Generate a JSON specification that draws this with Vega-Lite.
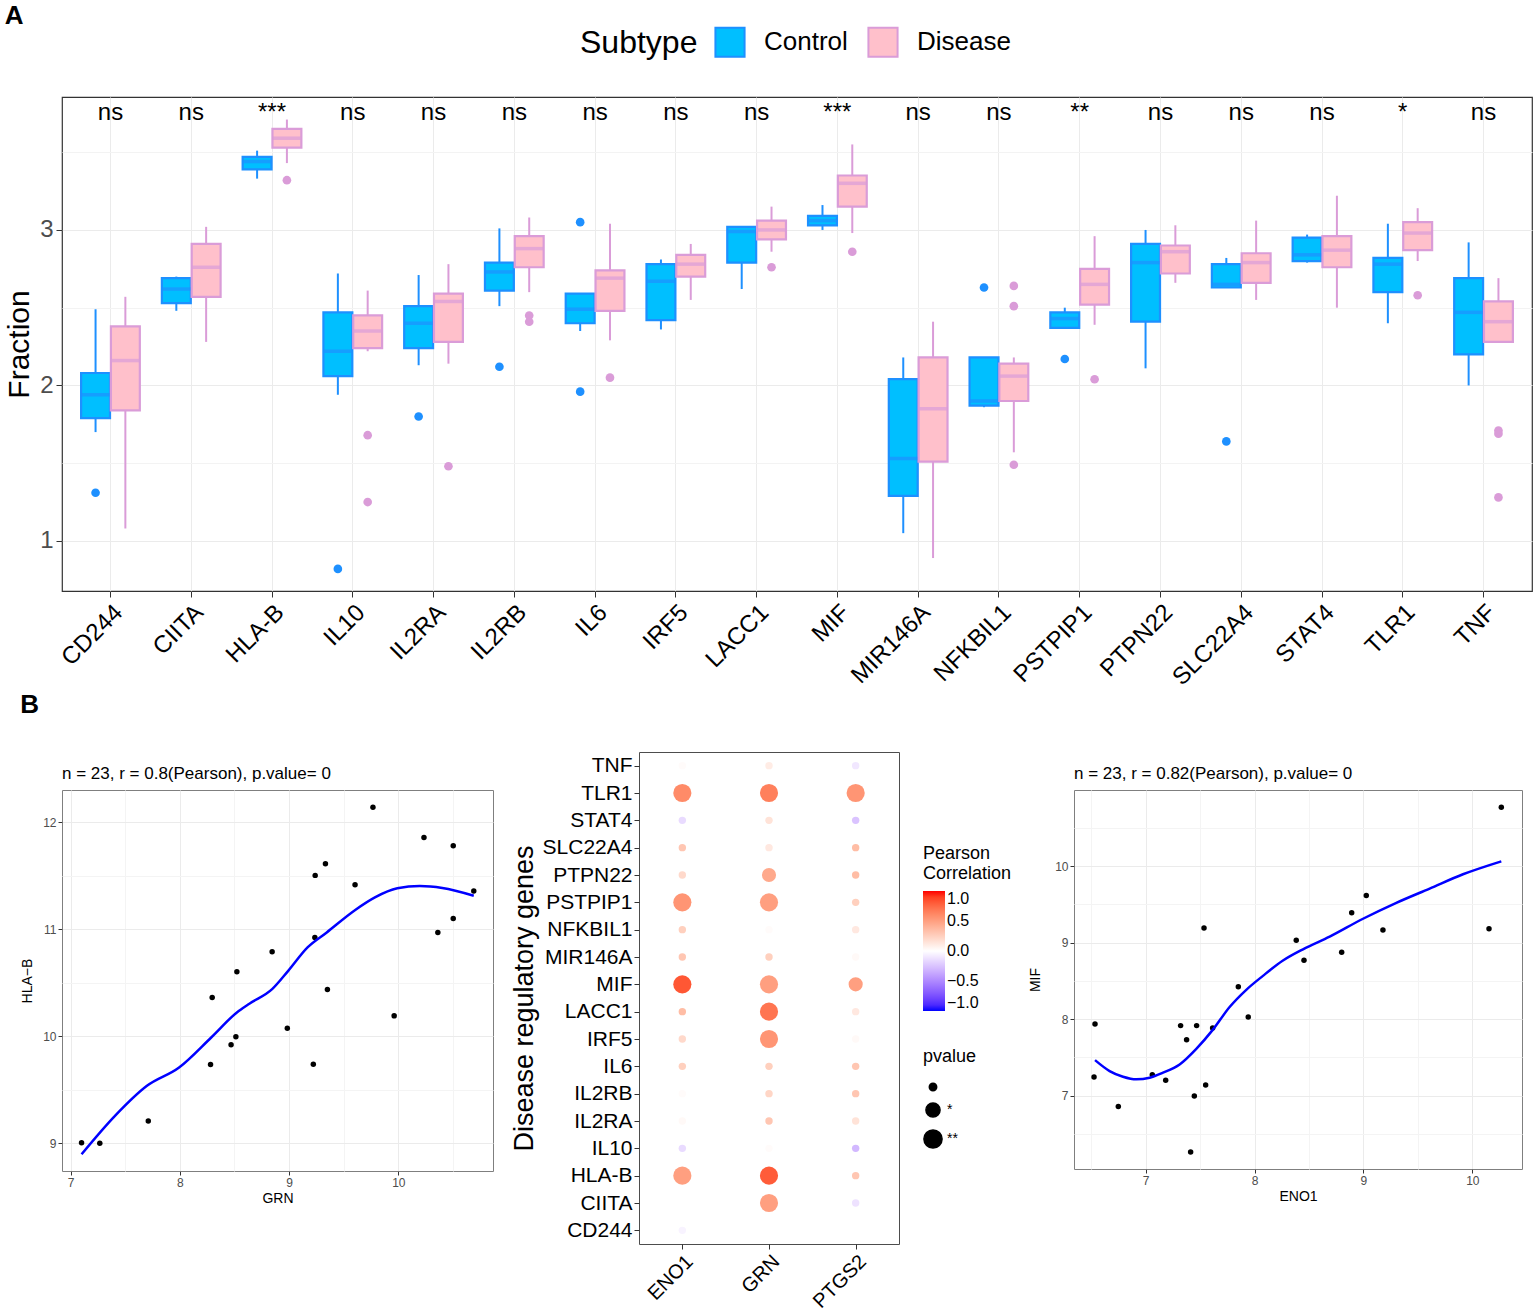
{
  "$schema": "https://vega.github.io/schema/vega-lite/v6.json",
  "padding": {"left": 4, "top": 2, "right": 0, "bottom": 0},
  "background": "white",
  "config": {
    "font": "Liberation Sans",
    "view": {"stroke": "#333333"},
    "axis": {"titleFontWeight": "normal", "titleColor": "#000000", "domain": false, "tickColor": "#333333"},
    "legend": {"titleFontWeight": "normal", "titleColor": "#000000", "labelColor": "#000000"},
    "title": {"fontWeight": "normal", "color": "#000000"}
  },
  "datasets": {
    "box": [
      {"gene": "CD244", "subtype": "Control", "lower": 1.70, "q1": 1.79, "median": 1.94, "q3": 2.08, "upper": 2.49},
      {"gene": "CD244", "subtype": "Disease", "lower": 1.08, "q1": 1.84, "median": 2.16, "q3": 2.38, "upper": 2.57},
      {"gene": "CIITA", "subtype": "Control", "lower": 2.48, "q1": 2.53, "median": 2.62, "q3": 2.69, "upper": 2.70},
      {"gene": "CIITA", "subtype": "Disease", "lower": 2.28, "q1": 2.57, "median": 2.76, "q3": 2.91, "upper": 3.02},
      {"gene": "HLA-B", "subtype": "Control", "lower": 3.33, "q1": 3.39, "median": 3.44, "q3": 3.47, "upper": 3.51},
      {"gene": "HLA-B", "subtype": "Disease", "lower": 3.43, "q1": 3.53, "median": 3.59, "q3": 3.65, "upper": 3.71},
      {"gene": "IL10", "subtype": "Control", "lower": 1.94, "q1": 2.06, "median": 2.22, "q3": 2.47, "upper": 2.72},
      {"gene": "IL10", "subtype": "Disease", "lower": 2.22, "q1": 2.24, "median": 2.35, "q3": 2.45, "upper": 2.61},
      {"gene": "IL2RA", "subtype": "Control", "lower": 2.13, "q1": 2.24, "median": 2.40, "q3": 2.51, "upper": 2.71},
      {"gene": "IL2RA", "subtype": "Disease", "lower": 2.14, "q1": 2.28, "median": 2.54, "q3": 2.59, "upper": 2.78},
      {"gene": "IL2RB", "subtype": "Control", "lower": 2.51, "q1": 2.61, "median": 2.73, "q3": 2.79, "upper": 3.01},
      {"gene": "IL2RB", "subtype": "Disease", "lower": 2.60, "q1": 2.76, "median": 2.88, "q3": 2.96, "upper": 3.08},
      {"gene": "IL6", "subtype": "Control", "lower": 2.35, "q1": 2.40, "median": 2.49, "q3": 2.59, "upper": 2.59},
      {"gene": "IL6", "subtype": "Disease", "lower": 2.29, "q1": 2.48, "median": 2.69, "q3": 2.74, "upper": 3.04},
      {"gene": "IRF5", "subtype": "Control", "lower": 2.36, "q1": 2.42, "median": 2.67, "q3": 2.78, "upper": 2.81},
      {"gene": "IRF5", "subtype": "Disease", "lower": 2.55, "q1": 2.70, "median": 2.78, "q3": 2.84, "upper": 2.91},
      {"gene": "LACC1", "subtype": "Control", "lower": 2.62, "q1": 2.79, "median": 2.99, "q3": 3.02, "upper": 3.02},
      {"gene": "LACC1", "subtype": "Disease", "lower": 2.86, "q1": 2.94, "median": 3.00, "q3": 3.06, "upper": 3.15},
      {"gene": "MIF", "subtype": "Control", "lower": 3.00, "q1": 3.03, "median": 3.06, "q3": 3.09, "upper": 3.16},
      {"gene": "MIF", "subtype": "Disease", "lower": 2.98, "q1": 3.15, "median": 3.30, "q3": 3.35, "upper": 3.55},
      {"gene": "MIR146A", "subtype": "Control", "lower": 1.05, "q1": 1.29, "median": 1.53, "q3": 2.04, "upper": 2.18},
      {"gene": "MIR146A", "subtype": "Disease", "lower": 0.89, "q1": 1.51, "median": 1.85, "q3": 2.18, "upper": 2.41},
      {"gene": "NFKBIL1", "subtype": "Control", "lower": 1.86, "q1": 1.87, "median": 1.90, "q3": 2.18, "upper": 2.18},
      {"gene": "NFKBIL1", "subtype": "Disease", "lower": 1.57, "q1": 1.90, "median": 2.06, "q3": 2.14, "upper": 2.18},
      {"gene": "PSTPIP1", "subtype": "Control", "lower": 2.37, "q1": 2.37, "median": 2.43, "q3": 2.47, "upper": 2.50},
      {"gene": "PSTPIP1", "subtype": "Disease", "lower": 2.39, "q1": 2.52, "median": 2.65, "q3": 2.75, "upper": 2.96},
      {"gene": "PTPN22", "subtype": "Control", "lower": 2.11, "q1": 2.41, "median": 2.79, "q3": 2.91, "upper": 3.00},
      {"gene": "PTPN22", "subtype": "Disease", "lower": 2.66, "q1": 2.72, "median": 2.86, "q3": 2.90, "upper": 3.03},
      {"gene": "SLC22A4", "subtype": "Control", "lower": 2.63, "q1": 2.63, "median": 2.65, "q3": 2.78, "upper": 2.82},
      {"gene": "SLC22A4", "subtype": "Disease", "lower": 2.55, "q1": 2.66, "median": 2.79, "q3": 2.85, "upper": 3.06},
      {"gene": "STAT4", "subtype": "Control", "lower": 2.79, "q1": 2.80, "median": 2.84, "q3": 2.95, "upper": 2.97},
      {"gene": "STAT4", "subtype": "Disease", "lower": 2.50, "q1": 2.76, "median": 2.87, "q3": 2.96, "upper": 3.22},
      {"gene": "TLR1", "subtype": "Control", "lower": 2.40, "q1": 2.60, "median": 2.78, "q3": 2.82, "upper": 3.04},
      {"gene": "TLR1", "subtype": "Disease", "lower": 2.80, "q1": 2.87, "median": 2.98, "q3": 3.05, "upper": 3.14},
      {"gene": "TNF", "subtype": "Control", "lower": 2.00, "q1": 2.20, "median": 2.47, "q3": 2.69, "upper": 2.92},
      {"gene": "TNF", "subtype": "Disease", "lower": 2.28, "q1": 2.28, "median": 2.41, "q3": 2.54, "upper": 2.69}
    ],
    "outliers": [
      {"gene": "CD244", "subtype": "Control", "value": 1.31},
      {"gene": "HLA-B", "subtype": "Disease", "value": 3.32},
      {"gene": "IL10", "subtype": "Control", "value": 0.82},
      {"gene": "IL10", "subtype": "Disease", "value": 1.68},
      {"gene": "IL10", "subtype": "Disease", "value": 1.25},
      {"gene": "IL2RA", "subtype": "Control", "value": 1.80},
      {"gene": "IL2RA", "subtype": "Disease", "value": 1.48},
      {"gene": "IL2RB", "subtype": "Control", "value": 2.12},
      {"gene": "IL2RB", "subtype": "Disease", "value": 2.45},
      {"gene": "IL2RB", "subtype": "Disease", "value": 2.41},
      {"gene": "IL6", "subtype": "Control", "value": 3.05},
      {"gene": "IL6", "subtype": "Control", "value": 1.96},
      {"gene": "IL6", "subtype": "Disease", "value": 2.05},
      {"gene": "LACC1", "subtype": "Disease", "value": 2.76},
      {"gene": "MIF", "subtype": "Disease", "value": 2.86},
      {"gene": "NFKBIL1", "subtype": "Control", "value": 2.63},
      {"gene": "NFKBIL1", "subtype": "Disease", "value": 2.64},
      {"gene": "NFKBIL1", "subtype": "Disease", "value": 2.51},
      {"gene": "NFKBIL1", "subtype": "Disease", "value": 1.49},
      {"gene": "PSTPIP1", "subtype": "Control", "value": 2.17},
      {"gene": "PSTPIP1", "subtype": "Disease", "value": 2.04},
      {"gene": "SLC22A4", "subtype": "Control", "value": 1.64},
      {"gene": "TLR1", "subtype": "Disease", "value": 2.58},
      {"gene": "TNF", "subtype": "Disease", "value": 1.71},
      {"gene": "TNF", "subtype": "Disease", "value": 1.69},
      {"gene": "TNF", "subtype": "Disease", "value": 1.28}
    ],
    "sig": [
      {"gene": "CD244", "label": "ns"}, {"gene": "CIITA", "label": "ns"}, {"gene": "HLA-B", "label": "***"},
      {"gene": "IL10", "label": "ns"}, {"gene": "IL2RA", "label": "ns"}, {"gene": "IL2RB", "label": "ns"},
      {"gene": "IL6", "label": "ns"}, {"gene": "IRF5", "label": "ns"}, {"gene": "LACC1", "label": "ns"},
      {"gene": "MIF", "label": "***"}, {"gene": "MIR146A", "label": "ns"}, {"gene": "NFKBIL1", "label": "ns"},
      {"gene": "PSTPIP1", "label": "**"}, {"gene": "PTPN22", "label": "ns"}, {"gene": "SLC22A4", "label": "ns"},
      {"gene": "STAT4", "label": "ns"}, {"gene": "TLR1", "label": "*"}, {"gene": "TNF", "label": "ns"}
    ],
    "dots": [
      {"gene": "TNF", "target": "ENO1", "cor": 0.02, "p": "ns"},
      {"gene": "TNF", "target": "GRN", "cor": 0.1, "p": "ns"},
      {"gene": "TNF", "target": "PTGS2", "cor": -0.1, "p": "ns"},
      {"gene": "TLR1", "target": "ENO1", "cor": 0.6, "p": "**"},
      {"gene": "TLR1", "target": "GRN", "cor": 0.65, "p": "**"},
      {"gene": "TLR1", "target": "PTGS2", "cor": 0.55, "p": "**"},
      {"gene": "STAT4", "target": "ENO1", "cor": -0.15, "p": "ns"},
      {"gene": "STAT4", "target": "GRN", "cor": 0.15, "p": "ns"},
      {"gene": "STAT4", "target": "PTGS2", "cor": -0.25, "p": "ns"},
      {"gene": "SLC22A4", "target": "ENO1", "cor": 0.3, "p": "ns"},
      {"gene": "SLC22A4", "target": "GRN", "cor": 0.12, "p": "ns"},
      {"gene": "SLC22A4", "target": "PTGS2", "cor": 0.35, "p": "ns"},
      {"gene": "PTPN22", "target": "ENO1", "cor": 0.2, "p": "ns"},
      {"gene": "PTPN22", "target": "GRN", "cor": 0.45, "p": "*"},
      {"gene": "PTPN22", "target": "PTGS2", "cor": 0.35, "p": "ns"},
      {"gene": "PSTPIP1", "target": "ENO1", "cor": 0.55, "p": "**"},
      {"gene": "PSTPIP1", "target": "GRN", "cor": 0.5, "p": "**"},
      {"gene": "PSTPIP1", "target": "PTGS2", "cor": 0.25, "p": "ns"},
      {"gene": "NFKBIL1", "target": "ENO1", "cor": 0.25, "p": "ns"},
      {"gene": "NFKBIL1", "target": "GRN", "cor": 0.02, "p": "ns"},
      {"gene": "NFKBIL1", "target": "PTGS2", "cor": 0.12, "p": "ns"},
      {"gene": "MIR146A", "target": "ENO1", "cor": 0.3, "p": "ns"},
      {"gene": "MIR146A", "target": "GRN", "cor": 0.25, "p": "ns"},
      {"gene": "MIR146A", "target": "PTGS2", "cor": 0.03, "p": "ns"},
      {"gene": "MIF", "target": "ENO1", "cor": 0.82, "p": "**"},
      {"gene": "MIF", "target": "GRN", "cor": 0.5, "p": "**"},
      {"gene": "MIF", "target": "PTGS2", "cor": 0.5, "p": "*"},
      {"gene": "LACC1", "target": "ENO1", "cor": 0.35, "p": "ns"},
      {"gene": "LACC1", "target": "GRN", "cor": 0.7, "p": "**"},
      {"gene": "LACC1", "target": "PTGS2", "cor": 0.12, "p": "ns"},
      {"gene": "IRF5", "target": "ENO1", "cor": 0.2, "p": "ns"},
      {"gene": "IRF5", "target": "GRN", "cor": 0.55, "p": "**"},
      {"gene": "IRF5", "target": "PTGS2", "cor": 0.03, "p": "ns"},
      {"gene": "IL6", "target": "ENO1", "cor": 0.25, "p": "ns"},
      {"gene": "IL6", "target": "GRN", "cor": 0.25, "p": "ns"},
      {"gene": "IL6", "target": "PTGS2", "cor": 0.3, "p": "ns"},
      {"gene": "IL2RB", "target": "ENO1", "cor": 0.02, "p": "ns"},
      {"gene": "IL2RB", "target": "GRN", "cor": 0.22, "p": "ns"},
      {"gene": "IL2RB", "target": "PTGS2", "cor": 0.3, "p": "ns"},
      {"gene": "IL2RA", "target": "ENO1", "cor": 0.03, "p": "ns"},
      {"gene": "IL2RA", "target": "GRN", "cor": 0.3, "p": "ns"},
      {"gene": "IL2RA", "target": "PTGS2", "cor": 0.15, "p": "ns"},
      {"gene": "IL10", "target": "ENO1", "cor": -0.15, "p": "ns"},
      {"gene": "IL10", "target": "GRN", "cor": 0.02, "p": "ns"},
      {"gene": "IL10", "target": "PTGS2", "cor": -0.3, "p": "ns"},
      {"gene": "HLA-B", "target": "ENO1", "cor": 0.5, "p": "**"},
      {"gene": "HLA-B", "target": "GRN", "cor": 0.8, "p": "**"},
      {"gene": "HLA-B", "target": "PTGS2", "cor": 0.3, "p": "ns"},
      {"gene": "CIITA", "target": "ENO1", "cor": 0.0, "p": "ns"},
      {"gene": "CIITA", "target": "GRN", "cor": 0.5, "p": "**"},
      {"gene": "CIITA", "target": "PTGS2", "cor": -0.12, "p": "ns"},
      {"gene": "CD244", "target": "ENO1", "cor": -0.05, "p": "ns"},
      {"gene": "CD244", "target": "GRN", "cor": 0.0, "p": "ns"},
      {"gene": "CD244", "target": "PTGS2", "cor": 0.0, "p": "ns"}
    ],
    "grnHla": [
      {"GRN": 7.10, "HLA_B": 9.006}, {"GRN": 7.267, "HLA_B": 9.000}, {"GRN": 7.711, "HLA_B": 9.209},
      {"GRN": 8.281, "HLA_B": 9.736}, {"GRN": 8.296, "HLA_B": 10.363}, {"GRN": 8.469, "HLA_B": 9.920},
      {"GRN": 8.513, "HLA_B": 9.995}, {"GRN": 8.522, "HLA_B": 10.603}, {"GRN": 8.845, "HLA_B": 10.790},
      {"GRN": 8.984, "HLA_B": 10.076}, {"GRN": 9.222, "HLA_B": 9.739}, {"GRN": 9.236, "HLA_B": 10.924},
      {"GRN": 9.239, "HLA_B": 11.504}, {"GRN": 9.333, "HLA_B": 11.613}, {"GRN": 9.351, "HLA_B": 10.438},
      {"GRN": 9.604, "HLA_B": 11.417}, {"GRN": 9.768, "HLA_B": 12.140}, {"GRN": 9.962, "HLA_B": 10.191},
      {"GRN": 10.235, "HLA_B": 11.857}, {"GRN": 10.362, "HLA_B": 10.971}, {"GRN": 10.503, "HLA_B": 11.782},
      {"GRN": 10.503, "HLA_B": 11.102}, {"GRN": 10.691, "HLA_B": 11.358}
    ],
    "grnFit": [
      {"GRN": 7.10, "HLA_B": 8.897}, {"GRN": 7.406, "HLA_B": 9.256}, {"GRN": 7.699, "HLA_B": 9.537},
      {"GRN": 7.993, "HLA_B": 9.708}, {"GRN": 8.287, "HLA_B": 9.989}, {"GRN": 8.522, "HLA_B": 10.223},
      {"GRN": 8.640, "HLA_B": 10.307}, {"GRN": 8.845, "HLA_B": 10.441}, {"GRN": 8.992, "HLA_B": 10.612},
      {"GRN": 9.169, "HLA_B": 10.831}, {"GRN": 9.345, "HLA_B": 10.971}, {"GRN": 9.609, "HLA_B": 11.183},
      {"GRN": 9.786, "HLA_B": 11.298}, {"GRN": 9.991, "HLA_B": 11.383}, {"GRN": 10.197, "HLA_B": 11.404},
      {"GRN": 10.403, "HLA_B": 11.386}, {"GRN": 10.691, "HLA_B": 11.314}
    ],
    "enoMif": [
      {"ENO1": 6.535, "MIF": 7.937}, {"ENO1": 6.526, "MIF": 7.243}, {"ENO1": 6.749, "MIF": 6.857},
      {"ENO1": 7.061, "MIF": 7.274}, {"ENO1": 7.184, "MIF": 7.200}, {"ENO1": 7.321, "MIF": 7.915},
      {"ENO1": 7.376, "MIF": 7.729}, {"ENO1": 7.413, "MIF": 6.264}, {"ENO1": 7.447, "MIF": 6.996},
      {"ENO1": 7.468, "MIF": 7.915}, {"ENO1": 7.536, "MIF": 9.189}, {"ENO1": 7.551, "MIF": 7.139},
      {"ENO1": 7.615, "MIF": 7.885}, {"ENO1": 7.851, "MIF": 8.422}, {"ENO1": 7.942, "MIF": 8.028},
      {"ENO1": 8.383, "MIF": 9.029}, {"ENO1": 8.454, "MIF": 8.769}, {"ENO1": 8.800, "MIF": 8.873},
      {"ENO1": 8.892, "MIF": 9.389}, {"ENO1": 9.026, "MIF": 9.614}, {"ENO1": 9.179, "MIF": 9.163},
      {"ENO1": 10.153, "MIF": 9.181}, {"ENO1": 10.266, "MIF": 10.767}
    ],
    "enoFit": [
      {"ENO1": 6.535, "MIF": 7.464}, {"ENO1": 6.669, "MIF": 7.321}, {"ENO1": 6.792, "MIF": 7.247},
      {"ENO1": 6.914, "MIF": 7.213}, {"ENO1": 7.037, "MIF": 7.235}, {"ENO1": 7.159, "MIF": 7.300},
      {"ENO1": 7.312, "MIF": 7.408}, {"ENO1": 7.465, "MIF": 7.612}, {"ENO1": 7.618, "MIF": 7.863},
      {"ENO1": 7.771, "MIF": 8.158}, {"ENO1": 7.924, "MIF": 8.383}, {"ENO1": 8.077, "MIF": 8.565},
      {"ENO1": 8.261, "MIF": 8.765}, {"ENO1": 8.445, "MIF": 8.912}, {"ENO1": 8.690, "MIF": 9.077},
      {"ENO1": 8.996, "MIF": 9.311}, {"ENO1": 9.302, "MIF": 9.519}, {"ENO1": 9.608, "MIF": 9.705},
      {"ENO1": 9.914, "MIF": 9.892}, {"ENO1": 10.266, "MIF": 10.061}
    ],
    "blank": [{"k": ""}]
  },
  "columns": 1,
  "align": "none",
  "spacing": 0,
  "resolve": {"legend": {"color": "independent", "size": "independent"}},
  "concat": [
    {
      "title": {"text": "A", "anchor": "start", "frame": "bounds", "fontSize": 26, "fontWeight": "bold", "offset": 68},
      "width": 1470,
      "height": 494,
      "view": {"stroke": "#333333", "strokeWidth": 1.2},
      "encoding": {
        "x": {
          "field": "gene", "type": "nominal",
          "sort": ["CD244","CIITA","HLA-B","IL10","IL2RA","IL2RB","IL6","IRF5","LACC1","MIF","MIR146A","NFKBIL1","PSTPIP1","PTPN22","SLC22A4","STAT4","TLR1","TNF"],
          "scale": {"paddingInner": 0, "paddingOuter": 0.1},
          "axis": {"title": null, "labelAngle": -45, "labelFontSize": 24, "labelColor": "#000000", "bandPosition": 0.5, "grid": true, "gridColor": "#EBEBEB", "tickSize": 6, "labelPadding": 3}
        }
      },
      "layer": [
        {
          "data": {"name": "box"},
          "mark": {"type": "rule", "strokeWidth": 2},
          "encoding": {
            "xOffset": {"field": "subtype", "type": "nominal", "scale": {"paddingInner": 0.03, "paddingOuter": 0.37}},
            "y": {"field": "lower", "type": "quantitative",
              "scale": {"domain": [0.678, 3.855], "nice": false, "zero": false},
              "axis": {"title": "Fraction", "titleFontSize": 30, "labelFontSize": 24, "labelColor": "#4D4D4D", "tickSize": 6, "titlePadding": 5, "labelPadding": 3,
                "values": [1, 1.5, 2, 2.5, 3, 3.5],
                "labelExpr": "datum.value % 1 === 0 ? format(datum.value, 'd') : ''",
                "tickOpacity": {"condition": {"test": "datum.value % 1 !== 0", "value": 0}, "value": 1},
                "gridColor": {"condition": {"test": "datum.value % 1 !== 0", "value": "#F3F3F3"}, "value": "#EBEBEB"}}},
            "y2": {"field": "upper"},
            "color": {"field": "subtype", "type": "nominal", "scale": {"domain": ["Control", "Disease"], "range": ["#1E90FF", "#DA9CD8"]}, "legend": null}
          }
        },
        {
          "data": {"name": "box"},
          "mark": {"type": "bar", "strokeWidth": 2.2},
          "encoding": {
            "xOffset": {"field": "subtype", "type": "nominal"},
            "y": {"field": "q1", "type": "quantitative"},
            "y2": {"field": "q3"},
            "fill": {"field": "subtype", "type": "nominal", "title": "Subtype",
              "scale": {"domain": ["Control", "Disease"], "range": ["#00BFFF", "#FFC0CB"]},
              "legend": {"orient": "none", "legendX": 518, "legendY": -71, "direction": "horizontal", "titleOrient": "left", "titleFontSize": 32, "labelFontSize": 26, "symbolType": "square", "symbolSize": 850, "symbolStrokeWidth": 2, "titlePadding": 16, "labelOffset": 18, "columnPadding": 16, "titleBaseline": "middle"}},
            "stroke": {"field": "subtype", "type": "nominal", "title": "Subtype",
              "scale": {"domain": ["Control", "Disease"], "range": ["#1E90FF", "#DA9CD8"]},
              "legend": {"orient": "none", "legendX": 518, "legendY": -71, "direction": "horizontal", "titleOrient": "left", "titleFontSize": 32, "labelFontSize": 26, "symbolType": "square", "symbolSize": 850, "symbolStrokeWidth": 2, "titlePadding": 16, "labelOffset": 18, "columnPadding": 16, "titleBaseline": "middle"}}
          }
        },
        {
          "data": {"name": "box"},
          "mark": {"type": "tick", "thickness": 3.5, "size": 28},
          "encoding": {
            "xOffset": {"field": "subtype", "type": "nominal"},
            "y": {"field": "median", "type": "quantitative"},
            "color": {"field": "subtype", "type": "nominal", "legend": null}
          }
        },
        {
          "data": {"name": "outliers"},
          "mark": {"type": "circle", "size": 75, "opacity": 1},
          "encoding": {
            "xOffset": {"field": "subtype", "type": "nominal"},
            "y": {"field": "value", "type": "quantitative"},
            "color": {"field": "subtype", "type": "nominal", "legend": null}
          }
        },
        {
          "data": {"name": "sig"},
          "mark": {"type": "text", "fontSize": 24, "baseline": "alphabetic", "color": "#000000"},
          "encoding": {
            "y": {"datum": 3.71},
            "text": {"field": "label"}
          }
        }
      ]
    },
    {
      "title": {"text": "B", "anchor": "start", "frame": "bounds", "fontSize": 26, "fontWeight": "bold", "offset": 29},
      "columns": 3,
      "align": "none",
      "spacing": 15,
      "resolve": {"legend": {"color": "independent", "size": "independent"}},
      "concat": [
        {
          "spacing": 6,
          "vconcat": [
            {
              "width": 431, "height": 1,
              "data": {"name": "blank"},
              "view": {"stroke": null},
              "mark": {"type": "text", "opacity": 0},
              "encoding": {"text": {"field": "k"}}
            },
            {
              "width": 431,
              "height": 381,
              "title": {"text": "n = 23, r = 0.8(Pearson), p.value= 0", "anchor": "start", "frame": "group", "fontSize": 17, "offset": 7},
              "view": {"stroke": "#7F7F7F"},
              "encoding": {
                "x": {"field": "GRN", "type": "quantitative",
                  "scale": {"domain": [6.921, 10.867], "nice": false, "zero": false},
                  "axis": {"title": "GRN", "titleFontSize": 14, "labelFontSize": 12, "labelColor": "#4D4D4D", "tickSize": 4, "titlePadding": 3,
                    "values": [7, 7.5, 8, 8.5, 9, 9.5, 10, 10.5],
                    "labelExpr": "datum.value % 1 === 0 ? format(datum.value, 'd') : ''",
                    "tickOpacity": {"condition": {"test": "datum.value % 1 !== 0", "value": 0}, "value": 1},
                    "gridColor": {"condition": {"test": "datum.value % 1 !== 0", "value": "#F4F4F4"}, "value": "#EBEBEB"}}},
                "y": {"field": "HLA_B", "type": "quantitative",
                  "scale": {"domain": [8.741, 12.302], "nice": false, "zero": false},
                  "axis": {"title": "HLA−B", "titleFontSize": 14, "labelFontSize": 12, "labelColor": "#4D4D4D", "tickSize": 4, "titlePadding": 8,
                    "values": [9, 9.5, 10, 10.5, 11, 11.5, 12],
                    "labelExpr": "datum.value % 1 === 0 ? format(datum.value, 'd') : ''",
                    "tickOpacity": {"condition": {"test": "datum.value % 1 !== 0", "value": 0}, "value": 1},
                    "gridColor": {"condition": {"test": "datum.value % 1 !== 0", "value": "#F4F4F4"}, "value": "#EBEBEB"}}}
              },
              "layer": [
                {"data": {"name": "grnHla"}, "mark": {"type": "circle", "size": 30, "color": "#000000", "opacity": 1}},
                {"data": {"name": "grnFit"}, "mark": {"type": "line", "color": "#0000FF", "strokeWidth": 2.5, "interpolate": "monotone"}}
              ]
            }
          ]
        },
        {
          "width": 260,
          "height": 492,
          "data": {"name": "dots"},
          "view": {"stroke": "#4D4D4D"},
          "mark": {"type": "circle", "opacity": 1},
          "encoding": {
            "x": {"field": "target", "type": "nominal", "sort": ["ENO1", "GRN", "PTGS2"],
              "scale": {"paddingInner": 0, "paddingOuter": 0.1},
              "axis": {"title": null, "labelAngle": -45, "labelFontSize": 20, "labelColor": "#000000", "grid": false, "tickSize": 5, "bandPosition": 0.5, "labelPadding": 2}},
            "y": {"field": "gene", "type": "nominal",
              "sort": ["TNF","TLR1","STAT4","SLC22A4","PTPN22","PSTPIP1","NFKBIL1","MIR146A","MIF","LACC1","IRF5","IL6","IL2RB","IL2RA","IL10","HLA-B","CIITA","CD244"],
              "scale": {"paddingInner": 0, "paddingOuter": 0.1},
              "axis": {"title": "Disease regulatory genes", "titleFontSize": 27, "labelFontSize": 21, "labelColor": "#000000", "grid": false, "tickSize": 5, "labelPadding": 2, "titlePadding": 4, "bandPosition": 0.5}},
            "color": {"field": "cor", "type": "quantitative",
              "scale": {"domain": [-1, 0, 1], "range": ["#0000FF", "#FFFFFF", "#FF0000"], "interpolate": "lab"},
              "legend": {"title": ["Pearson", "Correlation"], "orient": "none", "legendX": 284, "legendY": 93, "gradientLength": 120, "gradientThickness": 22, "titleFontSize": 18, "labelFontSize": 16, "values": [-1, -0.5, 0, 0.5, 1], "format": ".1f", "titlePadding": 8}},
            "size": {"field": "p", "type": "ordinal",
              "scale": {"type": "ordinal", "domain": ["ns", "*", "**"], "range": [55, 200, 330]},
              "legend": {"title": "pvalue", "orient": "none", "legendX": 284, "legendY": 296, "titleFontSize": 18, "labelFontSize": 14, "symbolFillColor": "#000000", "symbolStrokeColor": "#000000", "labelExpr": "datum.label == 'ns' ? '' : datum.label", "titlePadding": 14, "rowPadding": 5}}
          }
        },
        {
          "spacing": 6,
          "vconcat": [
            {
              "width": 448, "height": 1,
              "data": {"name": "blank"},
              "view": {"stroke": null},
              "mark": {"type": "text", "opacity": 0},
              "encoding": {"text": {"field": "k"}}
            },
            {
              "width": 448,
              "height": 379,
              "title": {"text": "n = 23, r = 0.82(Pearson), p.value= 0", "anchor": "start", "frame": "group", "fontSize": 17, "offset": 7},
              "view": {"stroke": "#7F7F7F"},
              "encoding": {
                "x": {"field": "ENO1", "type": "quantitative",
                  "scale": {"domain": [6.342, 10.456], "nice": false, "zero": false},
                  "axis": {"title": "ENO1", "titleFontSize": 14, "labelFontSize": 12, "labelColor": "#4D4D4D", "tickSize": 4, "titlePadding": 3,
                    "values": [6.5, 7, 7.5, 8, 8.5, 9, 9.5, 10],
                    "labelExpr": "datum.value % 1 === 0 ? format(datum.value, 'd') : ''",
                    "tickOpacity": {"condition": {"test": "datum.value % 1 !== 0", "value": 0}, "value": 1},
                    "gridColor": {"condition": {"test": "datum.value % 1 !== 0", "value": "#F4F4F4"}, "value": "#EBEBEB"}}},
                "y": {"field": "MIF", "type": "quantitative",
                  "scale": {"domain": [6.042, 10.993], "nice": false, "zero": false},
                  "axis": {"title": "MIF", "titleFontSize": 14, "labelFontSize": 12, "labelColor": "#4D4D4D", "tickSize": 4, "titlePadding": 12,
                    "values": [6.5, 7, 7.5, 8, 8.5, 9, 9.5, 10, 10.5],
                    "labelExpr": "datum.value % 1 === 0 ? format(datum.value, 'd') : ''",
                    "tickOpacity": {"condition": {"test": "datum.value % 1 !== 0", "value": 0}, "value": 1},
                    "gridColor": {"condition": {"test": "datum.value % 1 !== 0", "value": "#F4F4F4"}, "value": "#EBEBEB"}}}
              },
              "layer": [
                {"data": {"name": "enoMif"}, "mark": {"type": "circle", "size": 30, "color": "#000000", "opacity": 1}},
                {"data": {"name": "enoFit"}, "mark": {"type": "line", "color": "#0000FF", "strokeWidth": 2.5, "interpolate": "monotone"}}
              ]
            }
          ]
        }
      ]
    }
  ]
}
